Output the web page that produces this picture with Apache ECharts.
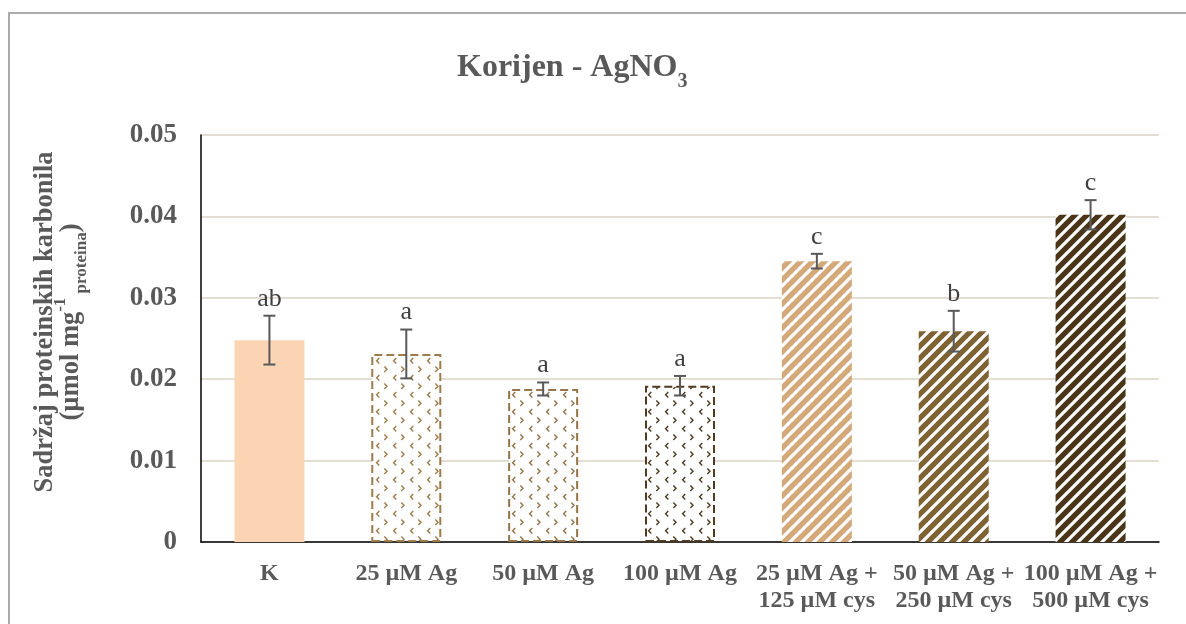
<!DOCTYPE html>
<html>
<head>
<meta charset="utf-8">
<script src="https://cdn.jsdelivr.net/npm/echarts@6/dist/echarts.min.js"></script>
<style>
html,body{margin:0;padding:0;background:#fff;}
#chart{width:1186px;height:624px;}
</style>
</head>
<body>
<div id="chart"></div>
<script>
// ---- data ----
const categories = ['K', '25 µM Ag', '50 µM Ag', '100 µM Ag', '25 µM Ag +\n125 µM cys', '50 µM Ag +\n250 µM cys', '100 µM Ag +\n500 µM cys'];
const values = [0.0248, 0.0231, 0.0188, 0.0192, 0.0345, 0.0259, 0.0402];
const errors = [0.0030, 0.0030, 0.0008, 0.0012, 0.0009, 0.0025, 0.0018];
const letters = ['ab', 'a', 'a', 'a', 'c', 'b', 'c'];
const yTicks = [0, 0.01, 0.02, 0.03, 0.04, 0.05];

// ---- styles ----
const FONT = "'Liberation Serif', 'Times New Roman', serif";
const TXT = '#595959';

function chevronPattern(color) {
  const c = document.createElement('canvas');
  c.width = 17; c.height = 17;
  const ctx = c.getContext('2d');
  ctx.fillStyle = '#fff';
  ctx.fillRect(0, 0, 17, 17);
  ctx.strokeStyle = color;
  ctx.lineWidth = 1.4;
  ctx.lineCap = 'square';
  // "<"
  ctx.beginPath();
  ctx.moveTo(4.8, 1.5); ctx.lineTo(2.6, 3.7); ctx.lineTo(4.8, 5.9);
  ctx.stroke();
  // ">"
  ctx.beginPath();
  ctx.moveTo(10.8, 10); ctx.lineTo(13, 12.2); ctx.lineTo(10.8, 14.4);
  ctx.stroke();
  return { image: c, repeat: 'repeat' };
}

function stripePattern(color) {
  const s = 12;
  const c = document.createElement('canvas');
  c.width = s; c.height = s;
  const ctx = c.getContext('2d');
  ctx.fillStyle = color;
  ctx.fillRect(0, 0, s, s);
  ctx.strokeStyle = '#fff';
  ctx.lineWidth = 3.2;
  ctx.beginPath();
  ctx.moveTo(-6, s + 6); ctx.lineTo(s + 6, -6);
  ctx.moveTo(-6, 6); ctx.lineTo(6, -6);
  ctx.moveTo(6, s + 6); ctx.lineTo(s + 6, 6);
  ctx.stroke();
  return { image: c, repeat: 'repeat' };
}

const barStyles = [
  { color: '#FBD4B4' },
  { color: chevronPattern('#9E7B4B'), borderColor: '#9E7B4B', borderType: 'dashed', borderWidth: 2 },
  { color: chevronPattern('#957448'), borderColor: '#957448', borderType: 'dashed', borderWidth: 2 },
  { color: chevronPattern('#4E3B22'), borderColor: '#4E3B22', borderType: 'dashed', borderWidth: 2 },
  { color: stripePattern('#D4A97A') },
  { color: stripePattern('#7F6232') },
  { color: stripePattern('#4A3519') }
];

const chart = echarts.init(document.getElementById('chart'), null, { renderer: 'canvas' });

const option = {
  backgroundColor: '#fff',
  animation: false,
  graphic: [
    {
      type: 'rect',
      shape: { x: 9, y: 13, width: 1300, height: 700 },
      style: { fill: 'none', stroke: '#ABABAB', lineWidth: 2 },
      silent: true
    },
    {
      type: 'text',
      x: 58,
      y: 322,
      rotation: Math.PI / 2,
      silent: true,
      style: {
        text: '{t|Sadržaj proteinskih karbonila}\n{t|(µmol mg}{sup|-1}{sub| proteina}{t|)}',
        align: 'center',
        verticalAlign: 'middle',
        rich: {
          t: { fontFamily: FONT, fontWeight: 'bold', fontSize: 26.5, fill: TXT, lineHeight: 26 },
          sup: { fontFamily: FONT, fontWeight: 'bold', fontSize: 17, fill: TXT, lineHeight: 26, verticalAlign: 'top', padding: [-6, 0, 0, 0] },
          sub: { fontFamily: FONT, fontWeight: 'bold', fontSize: 17, fill: TXT, lineHeight: 26, verticalAlign: 'bottom', padding: [0, 0, -6, 0] }
        }
      }
    }
  ],
  title: {
    text: '{t|Korijen - AgNO}{s|3}',
    left: 452,
    top: 47,
    textStyle: {
      rich: {
        t: { fontFamily: FONT, fontWeight: 'bold', fontSize: 32, color: TXT, lineHeight: 36, verticalAlign: 'top' },
        s: { fontFamily: FONT, fontWeight: 'bold', fontSize: 20, color: TXT, lineHeight: 36, verticalAlign: 'bottom', padding: [0, 0, -4, 0] }
      }
    }
  },
  grid: { left: 201, right: 27, top: 135, bottom: 82, containLabel: false },
  xAxis: {
    type: 'category',
    data: categories,
    axisLine: { lineStyle: { color: '#000', width: 1.5 } },
    axisTick: { show: false },
    axisLabel: {
      interval: 0,
      margin: 18,
      fontFamily: FONT,
      fontWeight: 'bold',
      fontSize: 24,
      lineHeight: 27,
      color: TXT
    }
  },
  yAxis: {
    type: 'value',
    min: 0,
    max: 0.05,
    interval: 0.01,
    axisLine: { show: true, lineStyle: { color: '#000', width: 1.5 } },
    axisTick: { show: false },
    splitLine: { lineStyle: { color: '#D9D3C6', width: 1.5 } },
    axisLabel: {
      margin: 24,
      fontFamily: FONT,
      fontWeight: 'bold',
      fontSize: 27,
      color: TXT,
      formatter: function (v) {
        const i = yTicks.findIndex(t => Math.abs(t - v) < 1e-9);
        if (i < 0) return '';
        return yTicks[i] === 0 ? '0' : yTicks[i].toFixed(2);
      }
    }
  },
  series: [
    {
      type: 'bar',
      barWidth: 70,
      data: values.map((v, i) => ({ value: v, itemStyle: barStyles[i] }))
    },
    {
      type: 'custom',
      z: 10,
      data: values.map((v, i) => [i, v - errors[i], v + errors[i]]),
      encode: { x: 0, y: [1, 2] },
      renderItem: function (params, api) {
        const i = api.value(0);
        const lo = api.coord([i, api.value(1)]);
        const hi = api.coord([i, api.value(2)]);
        const hw = 6;
        const st = { stroke: '#595959', lineWidth: 2 };
        return {
          type: 'group',
          children: [
            { type: 'line', shape: { x1: hi[0], y1: hi[1], x2: lo[0], y2: lo[1] }, style: st },
            { type: 'line', shape: { x1: hi[0] - hw, y1: hi[1], x2: hi[0] + hw, y2: hi[1] }, style: st },
            { type: 'line', shape: { x1: lo[0] - hw, y1: lo[1], x2: lo[0] + hw, y2: lo[1] }, style: st },
            {
              type: 'text',
              style: {
                text: letters[params.dataIndex],
                x: hi[0],
                y: hi[1] - 4,
                align: 'center',
                verticalAlign: 'bottom',
                fontFamily: FONT,
                fontSize: 26,
                fill: '#404040'
              }
            }
          ]
        };
      }
    }
  ]
};

chart.setOption(option);
</script>
</body>
</html>
